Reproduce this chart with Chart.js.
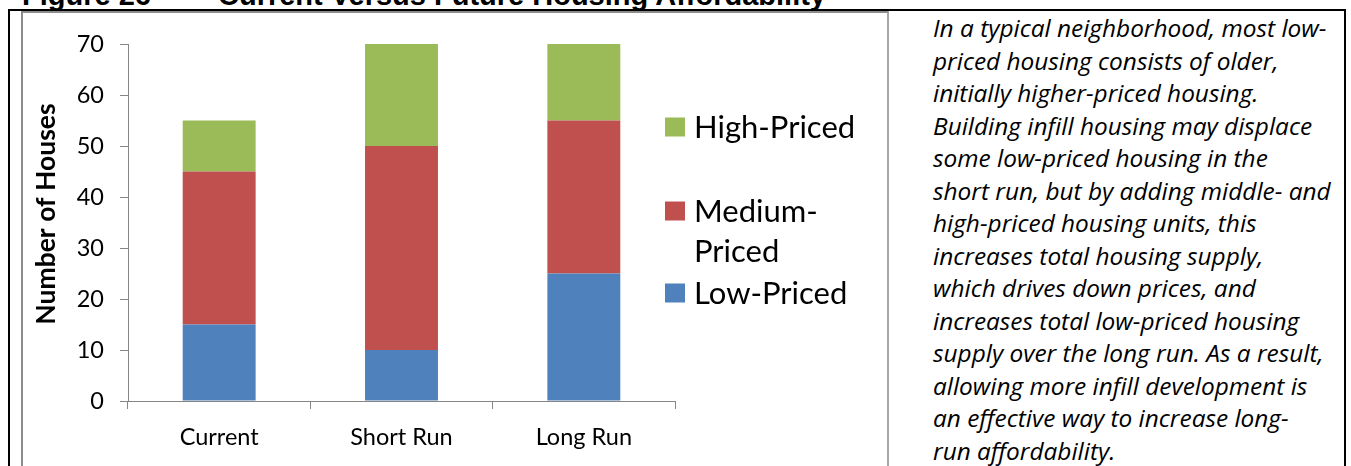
<!DOCTYPE html>
<html>
<head>
<meta charset="utf-8">
<script src="https://cdn.jsdelivr.net/npm/chart.js@4.4.1/dist/chart.umd.min.js"></script>
<style>
  html, body { margin: 0; padding: 0; background: #fff; }
  body { width: 1351px; height: 466px; position: relative; overflow: hidden; }
  .fig-title { position: absolute; top: -19.5px; font: bold 29px/29px "Liberation Sans", Arial, sans-serif; color: #000; white-space: nowrap; }
  .frame { position: absolute; left: 8px; top: 9px; width: 1334px; height: 480px; border: 2px solid #000; box-sizing: content-box; }
  .chart-box { position: absolute; left: 21px; top: 11px; width: 864px; height: 480px; border: 2px solid #8c8c8c; border-right-color: #a6a6a6; }
  #wrap { position: absolute; left: 22px; top: 12px; width: 864px; height: 454px; }
  .note { position: absolute; left: 933px; top: 12px; width: 410px; font: italic 24.4px/32.5px "Open Sans", sans-serif; color: #000; }
  .note div { white-space: nowrap; }
</style>
</head>
<body>
<div class="fig-title" style="left:22px">Figure 26</div>
<div class="fig-title" style="left:218px">Current Versus Future Housing Affordability</div>
<div class="frame"></div>
<div class="chart-box"></div>
<div id="wrap"><canvas id="c" width="864" height="454"></canvas></div>
<div class="note" id="note"></div>
<script>
// Categories and stacked series (number of houses)
const categories = ['Current', 'Short Run', 'Long Run'];
const lowPriced = [15, 10, 25];
const mediumPriced = [30, 40, 30];
const highPriced = [10, 20, 15];
const yTicks = [0, 10, 20, 30, 40, 50, 60, 70];
const yAxisTitle = 'Number of Houses';
const legendLines = {
  'High-Priced': ['High-Priced'],
  'Medium-Priced': ['Medium-', 'Priced'],
  'Low-Priced': ['Low-Priced']
};
const noteLines = [
  'In a typical neighborhood, most low-',
  'priced housing consists of older,',
  'initially higher-priced housing.',
  'Building infill housing may displace',
  'some low-priced housing in the',
  'short run, but by adding middle- and',
  'high-priced housing units, this',
  'increases total housing supply,',
  'which drives down prices, and',
  'increases total low-priced housing',
  'supply over the long run. As a result,',
  'allowing more infill development is',
  'an effective way to increase long-',
  'run affordability.'
];

const note = document.getElementById('note');
noteLines.forEach(t => { const d = document.createElement('div'); d.textContent = t; note.appendChild(d); });

const AXIS = '#868686';
const tickFont = { family: 'Lato', size: 23.5 };

// Legend (top item = top of stack) and rotated axis title drawn on the canvas
const sideLegend = {
  id: 'sideLegend',
  afterDraw(chart, args, opts) {
    const ctx = chart.ctx;
    ctx.save();
    ctx.font = '31px Lato';
    ctx.textBaseline = 'middle';
    ctx.fillStyle = '#000';
    const order = [2, 1, 0];
    order.forEach((di, k) => {
      const ds = chart.data.datasets[di];
      const cy = opts.rows[k];
      ctx.fillStyle = ds.backgroundColor;
      ctx.fillRect(opts.x, cy - 9.5, 20, 19);
      ctx.fillStyle = '#000';
      legendLines[ds.label].forEach((line, j) => {
        ctx.fillText(line, opts.x + 29, cy + 1 + j * opts.lineGap);
      });
    });
    // y-axis title, rotated to read bottom-to-top
    ctx.translate(opts.titleX, opts.titleY);
    ctx.rotate(-Math.PI / 2);
    ctx.font = 'bold 26.5px Lato';
    ctx.textAlign = 'center';
    ctx.fillText(yAxisTitle, 0, 0);
    ctx.restore();
  }
};

new Chart(document.getElementById('c'), {
  type: 'bar',
  data: {
    labels: categories,
    datasets: [
      { label: 'Low-Priced', data: lowPriced, backgroundColor: '#4F81BD' },
      { label: 'Medium-Priced', data: mediumPriced, backgroundColor: '#C0504D' },
      { label: 'High-Priced', data: highPriced, backgroundColor: '#9BBB59' }
    ]
  },
  options: {
    responsive: false,
    animation: false,
    events: [],
    layout: { padding: { left: 0, right: 211, top: 32, bottom: 0 } },
    datasets: { bar: { barPercentage: 0.4, categoryPercentage: 1.0 } },
    plugins: {
      legend: { display: false },
      tooltip: { enabled: false },
      sideLegend: { x: 643, rows: [115, 199, 281], lineGap: 40, titleX: 24, titleY: 202 }
    },
    scales: {
      x: {
        stacked: true,
        afterFit: s => { s.height = 65; },
        border: { display: true, color: AXIS, width: 1 },
        grid: { display: true, drawOnChartArea: false, drawTicks: true, tickLength: 8, color: AXIS, offset: true },
        ticks: { color: '#000', font: tickFont, padding: 14, maxRotation: 0 }
      },
      y: {
        stacked: true,
        min: 0,
        max: 70,
        afterFit: s => { s.width = 106; },
        afterBuildTicks: s => { s.ticks = yTicks.map(v => ({ value: v })); },
        border: { display: true, color: AXIS, width: 1 },
        grid: { display: true, drawOnChartArea: false, drawTicks: true, tickLength: 8, color: AXIS },
        ticks: { color: '#000', font: tickFont, padding: 16 }
      }
    }
  },
  plugins: [sideLegend]
});
</script>
</body>
</html>
